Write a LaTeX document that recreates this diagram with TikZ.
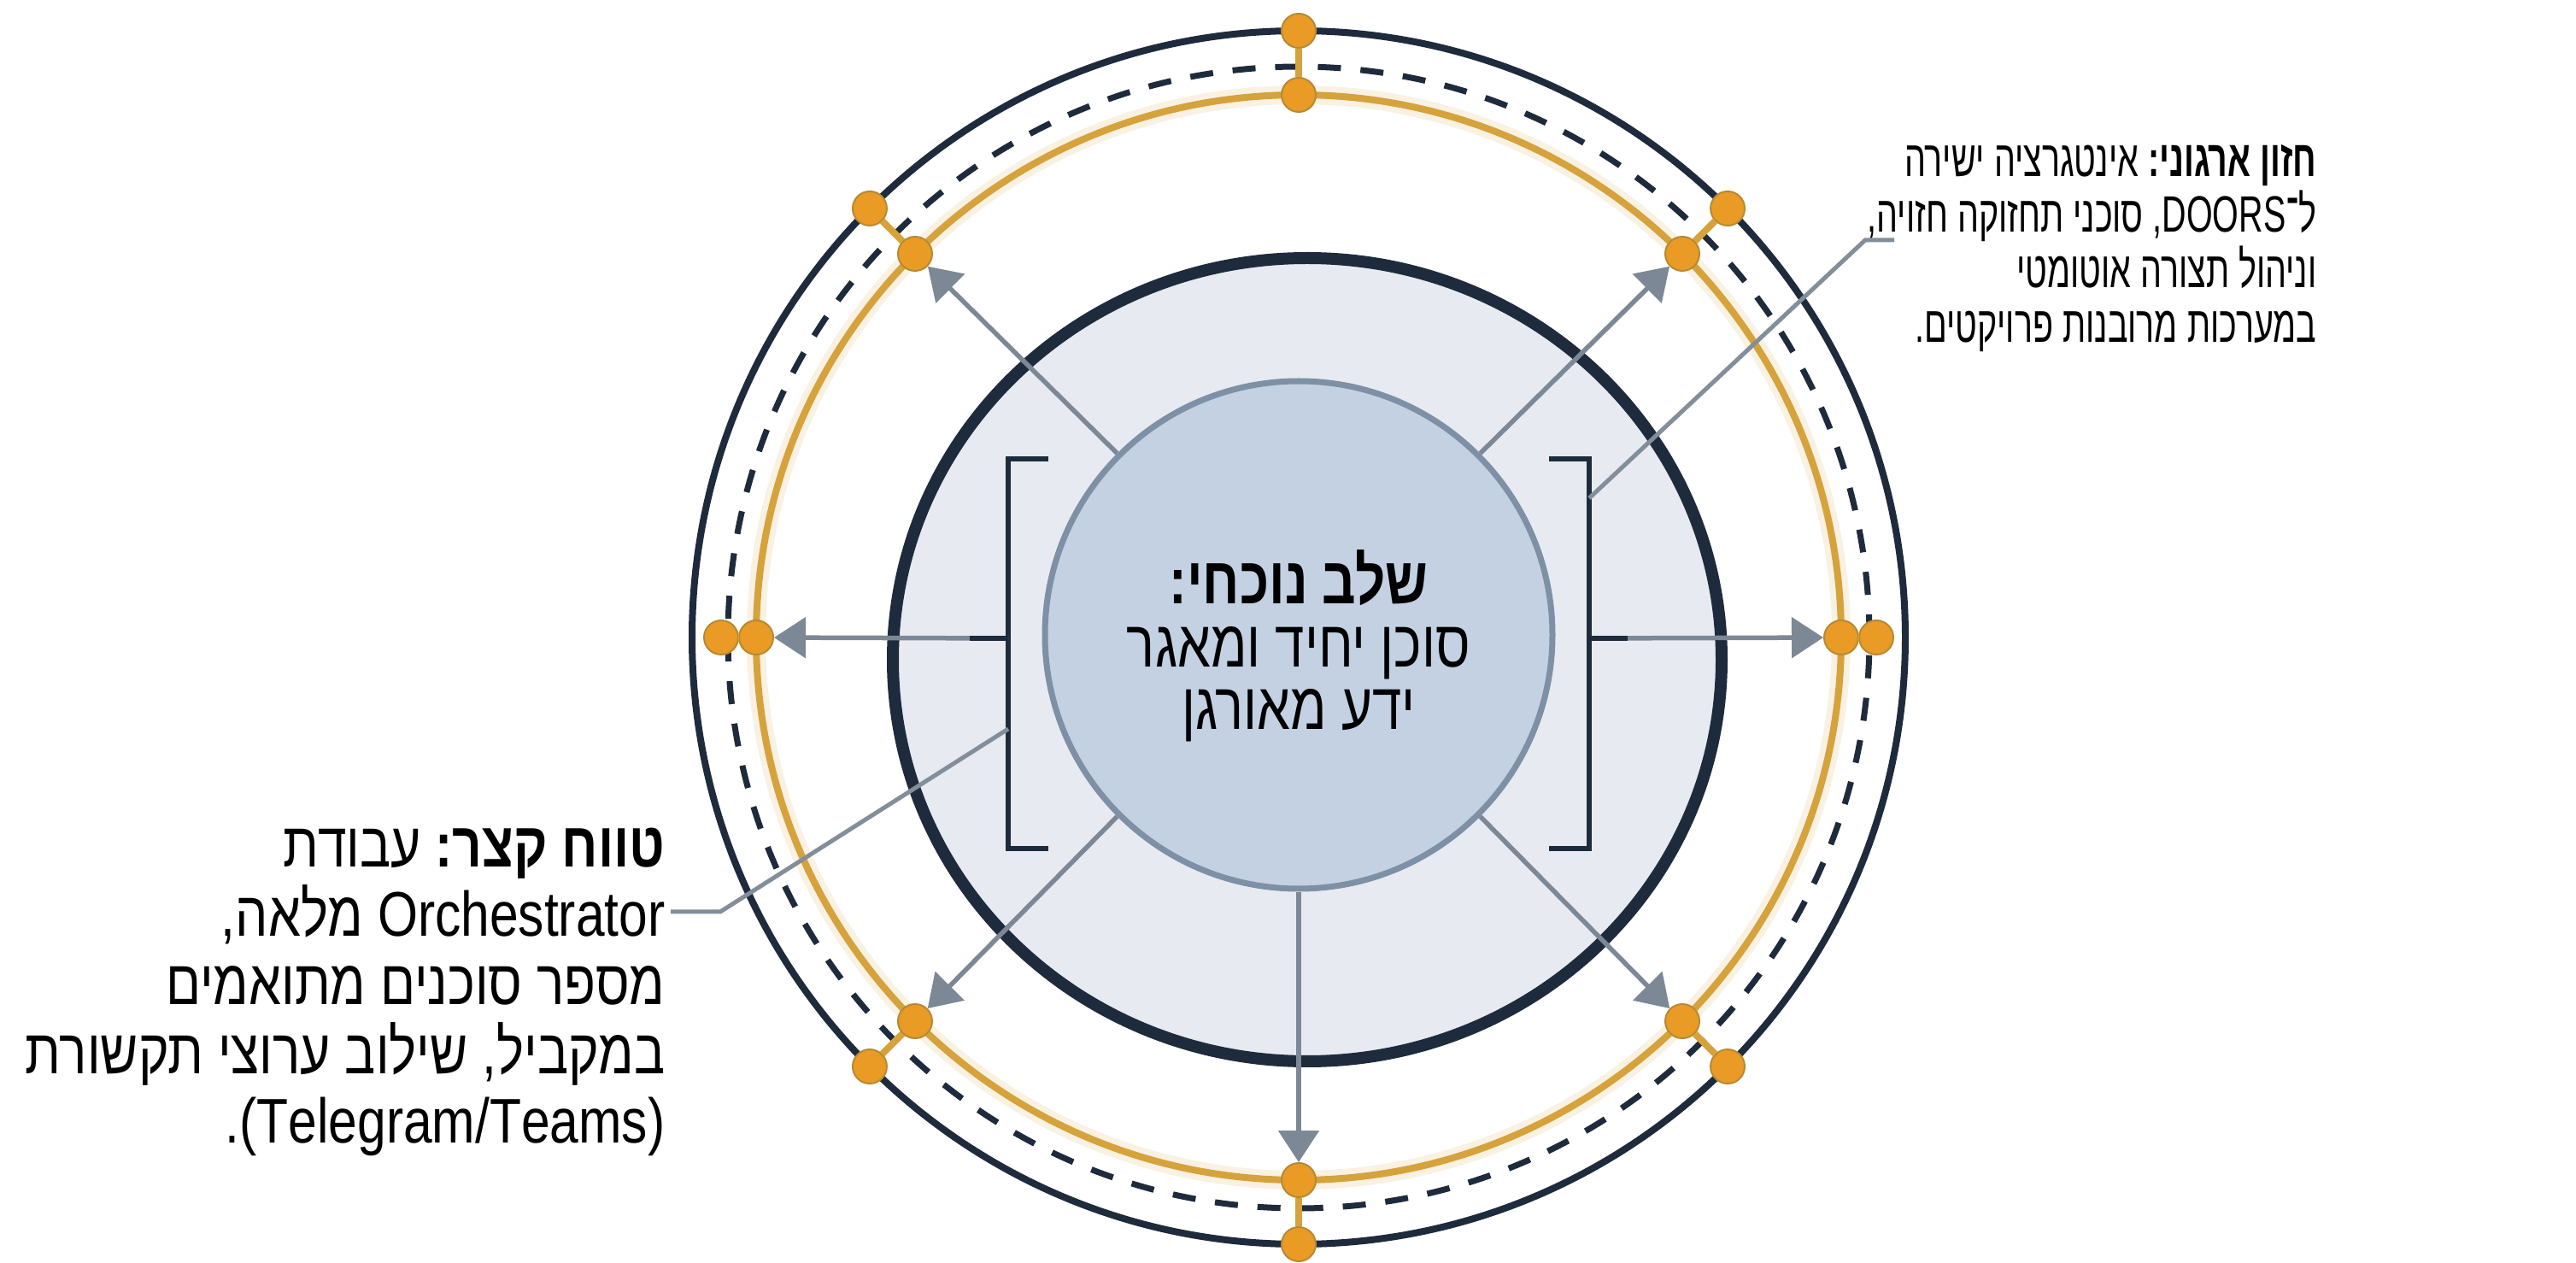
\documentclass[tikz,border=0pt]{standalone}
\usepackage{fontspec}
\setmainfont{Liberation Sans}
\newfontfamily\hebfont[Script=Hebrew, FakeStretch=0.82]{Liberation Sans}
\newfontfamily\hebcore[Script=Hebrew, FakeStretch=0.80]{Liberation Sans}
\newfontfamily\hebnarrow[Script=Hebrew, FakeStretch=0.66]{Liberation Sans}
\TeXXeTstate=1
\frenchspacing
\usepackage{xcolor}
\usetikzlibrary{arrows.meta, positioning, calc, shapes.geometric}

\definecolor{navy}{HTML}{1E2B3C}
\definecolor{gold}{HTML}{D6A23C}
\definecolor{dotfill}{HTML}{E99B26}
\definecolor{steel}{HTML}{C3D1E2}
\definecolor{steeldraw}{HTML}{7E90A6}
\definecolor{mist}{HTML}{E7EBF1}
\definecolor{arrgray}{HTML}{7D8896}

\tikzset{
  %% Rings
  ring/.style={draw=#1, line width=0.08cm},
  ring/.default=navy,
  dashring/.style={draw=navy, line width=0.07cm,
                   dash pattern=on 0.27cm off 0.23cm},
  %% Junction dot on the rings
  gdot/.style={circle, fill=dotfill, draw=gold!85!black,
               line width=0.02cm, minimum size=0.40cm, inner sep=0pt},
  link/.style={draw=gold, line width=0.08cm},
  %% Arrow
  arr/.style={-{Triangle[length=0.37cm,width=0.47cm]},
              draw=arrgray, fill=arrgray, line width=0.055cm},
  %% Callout line
  leader/.style={draw=arrgray!95, line width=0.05cm},
  bracket/.style={draw=navy, line width=0.06cm},
  %% Text blocks
  htext/.style={inner sep=0pt, align=right, text=black},
}

\begin{document}
\begin{tikzpicture}
  \useasboundingbox[fill=white] (0,0) rectangle (30.15,14.77);
  \coordinate (c) at (15.20,7.31);

  %% Outer rings
  \draw[gold!15, line width=0.22cm] (c) circle (6.35);
  \draw[ring] (c) circle (7.10);
  \draw[dashring] (c) circle (6.68);
  \draw[ring=gold] (c) circle (6.35);

  %% Middle disc
  \node[ellipse, draw=navy, line width=0.14cm, fill=mist,
        minimum width=9.70cm, minimum height=9.40cm,
        inner sep=0pt] (mid) at (15.30,7.05) {};

  %% Core
  \node[circle, draw=steeldraw, line width=0.07cm, fill=steel,
        minimum size=5.94cm, inner sep=0pt] (core) at (15.20,7.34) {};
  \node[align=center, inner sep=0pt,
        font=\hebcore\fontsize{22}{21}\selectfont,
        yshift=-0.13cm] (stage) at (core.center)
    {{\bfseries\beginR שלב נוכחי:\endR}\\
     \beginR סוכן יחיד ומאגר\endR\\
     \beginR ידע מאורגן\endR};

  %% Brackets
  \draw[bracket] (12.27,9.40) -- (11.80,9.40) -- (11.80,4.84) -- (12.27,4.84);
  \draw[bracket] (18.13,9.40) -- (18.60,9.40) -- (18.60,4.84) -- (18.13,4.84);
  \coordinate (lbk) at (11.80,7.30);
  \coordinate (rbk) at (18.60,7.30);

  %% Dots on the rings
  \foreach \a/\r in {0/6.76, 45/7.10, 90/7.10, 135/7.10,
                     180/6.76, 225/7.10, 270/7.10, 315/7.10} {
    \node[gdot] (g\a) at ($(c)+(\a:6.35)$) {};
    \node[gdot] (o\a) at ($(c)+(\a:\r)$) {};
    \draw[link] (g\a) -- (o\a);
  }

  %% Arrows out of the core
  \draw[arr] (lbk) -- (g180);
  \draw[arr] (rbk) -- (g0);
  \draw[bracket] (lbk) -- ++(-0.45,0);
  \draw[bracket] (rbk) -- ++(0.45,0);
  \foreach \a in {45,135,225,315}
    \draw[arr] (core.\a) -- (g\a);
  \draw[arr] (core.south) -- (g270);

  %% Right text
  \node[htext, anchor=north east,
        font=\hebnarrow\fontsize{17}{18.4}\selectfont] (vision) at (27.12,13.08)
    {\beginR\textbf{חזון ארגוני:} אינטגרציה ישירה\endR\\
     \beginR ל־\beginL DOORS\endL, סוכני תחזוקה חזויה,\endR\\
     \beginR וניהול תצורה אוטומטי\endR\\
     \beginR במערכות מרובנות פרויקטים.\endR};

  %% Left text
  \node[htext, anchor=north east,
        font=\hebfont\fontsize{21}{23}\selectfont] (short) at (7.79,5.09)
    {\beginR\textbf{טווח קצר:} עבודת\endR\\
     \beginR\beginL Orchestrator\endL{} מלאה,\endR\\
     \beginR מספר סוכנים מתואמים\endR\\
     \beginR במקביל, שילוב ערוצי תקשורת\endR\\
     \beginR\beginL(Telegram/Teams)\endL.\endR};

  %% Callout lines
  \coordinate (rlead) at (18.60,8.94);
  \coordinate (rbend) at (21.83,11.96);
  \coordinate (rend) at (22.17,11.96);
  \coordinate (llead) at (11.80,6.24);
  \coordinate (lbend) at (8.43,4.10);
  \coordinate (lend) at (7.85,4.10);
  \draw[leader] (rlead) -- (rbend) -- (rend);
  \draw[leader] (llead) -- (lbend) -- (lend);

\end{tikzpicture}
\end{document}
